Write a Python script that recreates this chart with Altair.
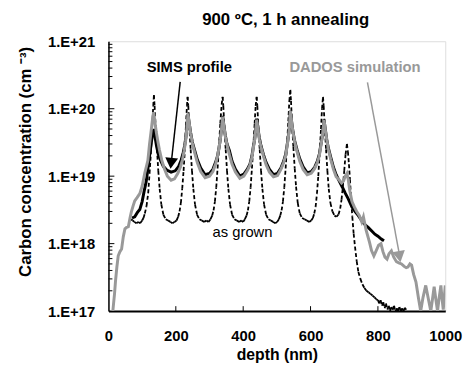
import altair as alt
import pandas as pd

FONT = "Arial, Liberation Sans, sans-serif"

# ---------------- data (depth in nm, carbon concentration in cm^-3) ----------------
asgrown_depth = [67, 72, 77, 83, 88, 94, 100, 104, 108, 113, 118, 122, 126, 130, 133, 135, 137, 140, 144, 148,
                 152, 157, 163, 170, 177, 184, 190, 196, 202, 207, 211, 215, 219, 223, 227, 230, 233, 235, 237, 240,
                 244, 248, 252, 257, 263, 270, 277, 284, 291, 297, 303, 308, 312, 316, 320, 324, 328, 332, 336, 339,
                 341, 344, 348, 352, 356, 361, 367, 374, 381, 388, 394, 400, 405, 410, 414, 418, 422, 426, 430, 434,
                 437, 440, 442, 445, 449, 453, 457, 462, 468, 475, 482, 489, 495, 501, 506, 510, 514, 518, 522, 526,
                 530, 534, 537, 540, 542, 545, 549, 553, 557, 562, 568, 575, 582, 589, 596, 602, 607, 611, 615, 619,
                 623, 627, 631, 634, 637, 639, 642, 646, 650, 654, 659, 665, 671, 677, 683, 688, 692, 696, 700, 704,
                 708, 711, 714, 717, 720, 724, 728, 732, 737, 742, 748, 754, 760, 766, 772, 778, 784, 790, 795, 800,
                 804, 808, 812, 816, 820, 824, 828, 832, 836, 840, 844, 848, 852, 856, 860, 864, 868, 872, 876, 880,
                 884]
asgrown_conc = [2.3e18, 2.2e18, 2.1e18, 2.0e18, 2.1e18, 2.0e18, 2.2e18, 2.4e18, 2.8e18, 3.6e18, 5.6e18, 1.1e19,
                2.2e19, 5.6e19, 1.1e20, 1.6e20, 1.1e20, 5.6e19, 2.5e19, 1.2e19,
                6.5e18, 3.8e18, 2.7e18, 2.3e18, 2.2e18, 2.1e18, 2.0e18, 2.1e18, 2.2e18, 2.5e18, 3.0e18, 4.0e18,
                6.5e18, 1.2e19, 2.5e19, 5.6e19, 1.1e20, 1.5e20, 1.1e20, 5.6e19,
                2.5e19, 1.2e19, 6.5e18, 3.8e18, 2.7e18, 2.3e18, 2.2e18, 2.1e18, 2.2e18, 2.1e18, 2.3e18, 2.6e18,
                3.1e18, 4.2e18, 6.8e18, 1.3e19, 2.7e19, 6.0e19, 1.15e20, 1.5e20,
                1.1e20, 5.6e19, 2.5e19, 1.2e19, 6.5e18, 3.8e18, 2.7e18, 2.3e18, 2.2e18, 2.1e18, 2.2e18, 2.1e18,
                2.3e18, 2.6e18, 3.1e18, 4.2e18, 6.8e18, 1.3e19, 2.7e19, 6.0e19,
                1.1e20, 1.5e20, 1.1e20, 5.6e19, 2.5e19, 1.2e19, 6.5e18, 3.8e18, 2.7e18, 2.3e18, 2.2e18, 2.1e18,
                2.0e18, 2.1e18, 2.3e18, 2.6e18, 3.1e18, 4.2e18, 6.8e18, 1.3e19,
                2.8e19, 6.5e19, 1.3e20, 1.9e20, 1.3e20, 6.0e19, 2.7e19, 1.3e19, 7.0e18, 4.0e18, 2.8e18, 2.4e18,
                2.3e18, 2.2e18, 2.1e18, 2.2e18, 2.4e18, 2.8e18, 3.5e18, 5.5e18,
                1.0e19, 2.2e19, 5.0e19, 1.0e20, 1.5e20, 1.1e20, 5.6e19, 2.5e19, 1.2e19, 6.5e18, 4.0e18, 3.0e18,
                2.6e18, 2.5e18, 2.7e18, 3.3e18, 4.5e18, 7.0e18, 1.2e19, 2.1e19,
                3.0e19, 2.3e19, 1.5e19, 9.0e18, 5.0e18, 2.5e18, 1.4e18, 9.0e17, 5.5e17, 3.8e17, 3.0e17, 2.5e17,
                2.2e17, 2.0e17, 1.9e17, 1.8e17, 1.7e17, 1.6e17, 1.5e17, 1.45e17,
                1.3e17, 1.45e17, 1.2e17, 1.35e17, 1.1e17, 1.3e17, 1.05e17, 1.2e17, 1.0e17, 1.15e17, 1.05e17, 1.2e17,
                0.97e17, 1.1e17, 1.0e17, 1.15e17, 1.0e17, 1.1e17, 1.0e17, 1.12e17,
                1.05e17]

sims_depth = [70, 78, 86, 93, 100, 106, 112, 117, 122, 126, 130, 135, 139, 143, 148, 155, 163, 173, 186, 198,
              208, 216, 222, 226, 230, 233, 236, 240, 244, 249, 256, 264, 274, 287, 300, 310, 318, 324, 328, 332,
              335, 339, 343, 347, 352, 359, 367, 377, 390, 402, 412, 420, 426, 430, 434, 437, 440, 444, 448, 453,
              460, 468, 478, 490, 502, 512, 520, 526, 530, 534, 537, 540, 544, 548, 553, 560, 568, 578, 590, 602,
              612, 620, 626, 630, 634, 637, 640, 644, 648, 653, 660, 668, 676, 686, 695, 703, 712, 723, 733, 742,
              752, 762, 771, 781, 791, 800, 810, 818]
sims_conc = [2.4e18, 2.5e18, 2.9e18, 3.2e18, 4.2e18, 6.0e18, 8.3e18, 1.26e19, 2.0e19, 2.8e19, 4.0e19, 5.0e19,
             3.6e19, 2.75e19, 2.1e19, 1.7e19, 1.4e19, 1.23e19, 1.15e19, 1.2e19,
             1.38e19, 1.74e19, 2.24e19, 2.8e19, 3.8e19, 5.5e19, 8.3e19, 6.0e19, 4.4e19, 3.2e19, 2.4e19, 1.74e19,
             1.32e19, 1.05e19, 1.1e19, 1.26e19, 1.6e19, 2.0e19, 2.6e19, 3.5e19,
             4.8e19, 7.8e19, 5.5e19, 4.0e19, 3.0e19, 2.4e19, 1.66e19, 1.26e19, 1.0e19, 1.07e19, 1.26e19, 1.5e19,
             2.0e19, 2.7e19, 3.5e19, 4.8e19, 7.1e19, 5.0e19, 3.7e19, 2.8e19,
             2.1e19, 1.6e19, 1.26e19, 1.05e19, 1.1e19, 1.32e19, 1.66e19, 2.1e19, 2.8e19, 3.8e19, 5.2e19, 9.3e19,
             6.3e19, 4.5e19, 3.3e19, 2.45e19, 1.8e19, 1.38e19, 1.12e19, 1.17e19,
             1.35e19, 1.66e19, 2.1e19, 2.8e19, 3.7e19, 4.9e19, 6.9e19, 4.9e19, 3.5e19, 2.6e19, 1.9e19, 1.35e19,
             1.05e19, 8.3e18, 6.8e18, 5.6e18, 4.6e18, 3.5e18, 2.95e18, 2.6e18,
             2.2e18, 1.9e18, 1.74e18, 1.55e18, 1.38e18, 1.29e18, 1.17e18, 1.1e18]

dados_depth = [13, 18, 21, 25, 29, 34, 39, 44, 49, 54, 59, 64, 68, 73, 78, 85, 93, 100, 108, 113,
               117, 122, 127, 131, 134, 138, 142, 147, 151, 158, 166, 175, 186, 196, 206, 214, 220, 225, 229, 233,
               236, 240, 244, 249, 256, 264, 274, 287, 300, 310, 318, 324, 328, 332, 335, 339, 343, 347, 352, 359,
               367, 377, 390, 402, 412, 420, 426, 430, 434, 437, 440, 444, 448, 453, 460, 468, 478, 490, 502, 512,
               520, 526, 530, 534, 537, 540, 544, 548, 553, 560, 568, 578, 590, 602, 612, 620, 626, 630, 634, 637,
               640, 644, 648, 653, 660, 668, 676, 684, 692, 698, 703, 708, 712, 716, 723, 730, 737, 745, 752, 757,
               765, 775, 781, 788, 795, 802, 809, 815, 821, 827, 833, 840, 847, 855, 862, 870, 878, 884, 889, 895,
               900, 906, 913, 920, 927, 934, 942, 950, 957, 962, 967, 972, 977, 982, 987, 990, 994, 1000]
dados_conc = [1.0e17, 1.8e17, 2.8e17, 4.5e17, 6.6e17, 7.6e17, 8.3e17, 1.26e18, 1.66e18, 1.74e18, 1.78e18, 2.4e18,
              2.95e18, 3.6e18, 4.3e18, 4.8e18, 5.5e18, 7.1e18, 1.12e19, 1.41e19,
              1.7e19, 3.0e19, 4.8e19, 7.1e19, 8.9e19, 6.3e19, 4.5e19, 3.2e19, 2.5e19, 1.74e19, 1.29e19, 1.0e19,
              8.7e18, 9.1e18, 1.1e19, 1.38e19, 1.78e19, 2.4e19, 3.3e19, 5.2e19,
              8.5e19, 6.0e19, 4.3e19, 3.1e19, 2.24e19, 1.58e19, 1.17e19, 9.5e18, 1.0e19, 1.17e19, 1.5e19, 2.0e19,
              2.6e19, 3.5e19, 4.7e19, 7.6e19, 5.4e19, 3.9e19, 2.9e19, 2.1e19,
              1.5e19, 1.15e19, 9.3e18, 1.0e19, 1.2e19, 1.45e19, 1.9e19, 2.6e19, 3.5e19, 4.7e19, 6.9e19, 4.9e19,
              3.5e19, 2.7e19, 2.0e19, 1.48e19, 1.15e19, 9.8e18, 1.02e19, 1.26e19,
              1.58e19, 2.0e19, 2.7e19, 3.7e19, 5.2e19, 9.3e19, 6.3e19, 4.4e19, 3.2e19, 2.3e19, 1.66e19, 1.26e19,
              1.05e19, 1.1e19, 1.29e19, 1.58e19, 2.0e19, 2.7e19, 3.6e19, 4.8e19,
              6.8e19, 4.8e19, 3.5e19, 2.5e19, 1.78e19, 1.26e19, 9.8e18, 8.9e18, 7.9e18, 8.5e18, 1.0e19, 1.1e19,
              8.9e18, 6.3e18, 4.2e18, 3.5e18, 3.0e18, 2.6e18, 2.1e18, 2.5e18,
              1.58e18, 1.05e18, 7.9e17, 6.6e17, 7.9e17, 9.5e17, 1.0e18, 7.6e17, 6.3e17, 5.9e17, 7.1e17, 7.8e17,
              6.3e17, 5.4e17, 5.2e17, 5.0e17, 4.6e17, 4.4e17, 4.5e17, 5.0e17,
              4.8e17, 3.5e17, 2.7e17, 1.6e17, 1.0e17, 1.6e17, 2.4e17, 1.5e17, 1.0e17, 1.5e17, 2.3e17, 1.5e17,
              1.0e17, 1.6e17, 2.4e17, 1.6e17, 1.05e17, 2.4e17]

# annotations
label_text = ["SIMS profile", "DADOS simulation", "as grown"]
label_depth = [240, 732, 398]
label_conc = [4.2e20, 4.2e20, 1.5e18]
label_color = ["black", "#999999", "black"]
label_weight = ["bold", "bold", "normal"]

arrow_name = ["SIMS", "DADOS"]
arrow_depth = [213, 769]
arrow_conc = [2.5e20, 2.45e20]
arrow_depth2 = [186, 864]
arrow_conc2 = [1.5e19, 6.8e17]
head_depth = [186, 864]
head_conc = [1.55e19, 6.4e17]

x_ticks = [0, 200, 400, 600, 800, 1000]
y_major = [1e17, 1e18, 1e19, 1e20, 1e21]
y_minor = [m * d for d in [1e17, 1e18, 1e19, 1e20] for m in range(2, 10)]

# ---------------- chart ----------------
xs = alt.Scale(domain=[0, 1000], nice=False, zero=False)
ys = alt.Scale(type="log", domain=[1e17, 1e21], nice=False)

xaxis = alt.Axis(values=x_ticks, format="d", title="depth (nm)", grid=False, ticks=False, tickSize=0,
                 labelFont=FONT, labelFontSize=15, labelFontWeight="bold", labelColor="black",
                 labelPadding=18, labelFlush=False,
                 titleFont=FONT, titleFontSize=16, titleFontWeight="bold", titleColor="black",
                 titleY=36, titleBaseline="top",
                 domainColor="black", domainWidth=2)
yaxis = alt.Axis(values=y_major, title="Carbon concentration (cm \u207b\u00b3)", grid=False, ticks=False,
                 tickSize=0, labelExpr="'1.E+' + round(log(datum.value) / LN10)",
                 labelFont=FONT, labelFontSize=15, labelFontWeight="bold", labelColor="black",
                 labelPadding=14, labelFlush=False,
                 titleFont=FONT, titleFontSize=17, titleFontWeight="bold", titleColor="black",
                 titleX=-84, titleY=122, titleAlign="center", titleBaseline="middle",
                 domainColor="black", domainWidth=1.5)

X = alt.X("depth:Q", scale=xs, axis=xaxis)
Y = alt.Y("conc:Q", scale=ys, axis=yaxis)

# as-grown curve drawn point-to-point, so its dash pattern restarts on every segment
# (short flat segments look solid, long steep ones look dotted, as in the original plot)
seg_rows = []
for i in range(len(asgrown_depth) - 1):
    for j in (i, i + 1):
        seg_rows.append({"seg": i, "depth": asgrown_depth[j], "conc": asgrown_conc[j]})
df_ag = pd.DataFrame(seg_rows)
df_sims = pd.DataFrame({"depth": sims_depth, "conc": sims_conc})
df_dados = pd.DataFrame({"depth": dados_depth, "conc": dados_conc})
df_lab = pd.DataFrame({"text": label_text, "depth": label_depth, "conc": label_conc,
                       "color": label_color, "weight": label_weight})
df_arrow = pd.DataFrame({"name": arrow_name, "depth": arrow_depth, "conc": arrow_conc,
                         "depth2": arrow_depth2, "conc2": arrow_conc2})
df_head = pd.DataFrame({"name": arrow_name, "depth": head_depth, "conc": head_conc})
df_xt = pd.DataFrame({"depth": x_ticks[1:-1]})
df_ymaj = pd.DataFrame({"conc": y_major[1:-1]})
df_ymin = pd.DataFrame({"conc": y_minor})

ag = alt.Chart(df_ag).mark_line(color="black", strokeWidth=1.8, strokeDash=[4, 2.5], clip=True).encode(
    x=X, y=Y, detail="seg:N")
sims = alt.Chart(df_sims).mark_line(color="black", strokeWidth=3, clip=True).encode(x=X, y=Y)
dados = alt.Chart(df_dados).mark_line(color="#999999", strokeWidth=3, clip=True).encode(x=X, y=Y)

arrows = alt.Chart(df_arrow).mark_rule(strokeWidth=1.5).encode(
    x=X, y=Y, x2="depth2:Q", y2="conc2:Q",
    color=alt.Color("name:N", scale=alt.Scale(domain=arrow_name, range=["black", "#999999"]), legend=None))
head_sims = alt.Chart(df_head[df_head.name == "SIMS"]).mark_point(
    shape="triangle-down", filled=True, size=170, angle=6, color="black", opacity=1).encode(x=X, y=Y)
head_dados = alt.Chart(df_head[df_head.name == "DADOS"]).mark_point(
    shape="triangle-down", filled=True, size=170, angle=350, color="#999999", opacity=1).encode(x=X, y=Y)

labels_bold = alt.Chart(df_lab[df_lab.weight == "bold"]).mark_text(
    font=FONT, fontSize=15, fontWeight="bold", align="center", baseline="middle").encode(
    x=X, y=Y, text="text:N", color=alt.Color("color:N", scale=None))
labels_norm = alt.Chart(df_lab[df_lab.weight == "normal"]).mark_text(
    font=FONT, fontSize=15, align="center", baseline="middle", color="black").encode(
    x=X, y=Y, text="text:N")

xt = alt.Chart(df_xt).mark_rule(color="black", strokeWidth=1).encode(
    x=X, y=alt.value(274), y2=alt.value(269))
ymaj = alt.Chart(df_ymaj).mark_rule(color="black", strokeWidth=1).encode(
    y=Y, x=alt.value(0), x2=alt.value(6))
ymin = alt.Chart(df_ymin).mark_rule(color="black", strokeWidth=1).encode(
    y=Y, x=alt.value(0), x2=alt.value(4))

chart = alt.layer(ag, sims, dados, arrows, head_sims, head_dados, labels_bold, labels_norm, xt, ymaj, ymin).properties(
    width=342, height=274,
    title=alt.TitleParams("900 \u00baC, 1 h annealing", font=FONT, fontSize=17, fontWeight="bold",
                          color="black", anchor="middle", dx=9, offset=6),
    autosize=alt.AutoSizeParams(type="none"),
    padding={"left": 102, "top": 31, "right": 18, "bottom": 53},
).configure_view(stroke="#808080", strokeWidth=1).configure(background="white")

chart.save("out.html", embed_options={"renderer": "svg", "actions": False})
